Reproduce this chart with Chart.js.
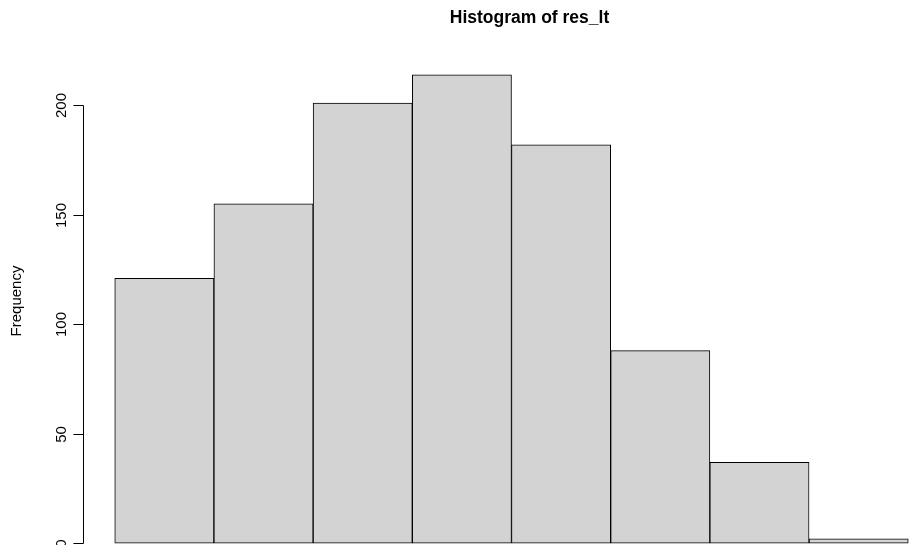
<!DOCTYPE html>
<html>
<head>
<meta charset="utf-8">
<script src="https://cdn.jsdelivr.net/npm/chart.js@4"></script>
<style>
  html, body { margin: 0; padding: 0; background: #ffffff; }
  #wrap { width: 909px; height: 545px; overflow: hidden; position: relative; background: #fff; }
  #c { position: absolute; left: 0; top: 0; }
</style>
</head>
<body>
<div id="wrap"><canvas id="c" width="960" height="580"></canvas></div>
<script>
// ---- data ----
const binCenters = [0.5, 1.5, 2.5, 3.5, 4.5, 5.5, 6.5, 7.5];
const counts = [121, 155, 201, 214, 182, 88, 37, 2];
const yTicks = [0, 50, 100, 150, 200];
const titleText = 'Histogram of res_lt';
const yLabel = 'Frequency';

const FONT = '"Liberation Sans", Arial, Helvetica, sans-serif';

const rAxisPlugin = {
  id: 'rAxis',
  afterDraw(chart) {
    const ctx = chart.ctx;
    const ys = chart.scales.y;
    const area = chart.chartArea;
    const ax = area.left;
    ctx.save();
    // axis line
    ctx.strokeStyle = '#000';
    ctx.lineWidth = 1;
    ctx.beginPath();
    ctx.moveTo(ax + 0.5, Math.round(ys.getPixelForValue(yTicks[0])) + 0.5);
    ctx.lineTo(ax + 0.5, Math.round(ys.getPixelForValue(yTicks[yTicks.length - 1])) + 0.5);
    ctx.stroke();
    // ticks and labels
    ctx.font = '15px ' + FONT;
    ctx.fillStyle = '#000';
    ctx.textAlign = 'center';
    ctx.textBaseline = 'alphabetic';
    yTicks.forEach(v => {
      const py = Math.round(ys.getPixelForValue(v)) + 0.5;
      ctx.beginPath();
      ctx.moveTo(ax - 9.6, py);
      ctx.lineTo(ax + 0.5, py);
      ctx.stroke();
      ctx.save();
      ctx.translate(ax - 17, py);
      ctx.rotate(-Math.PI / 2);
      ctx.fillText(String(v), 0, 0);
      ctx.restore();
    });
    // y axis title
    ctx.save();
    ctx.translate(ax - 62, (area.top + area.bottom) / 2 - 8);
    ctx.rotate(-Math.PI / 2);
    ctx.fillText(yLabel, 0, 0);
    ctx.restore();
    // main title
    ctx.font = 'bold 17.5px ' + FONT;
    ctx.fillText(titleText, (area.left + area.right) / 2 + 18, 23);
    ctx.restore();
  }
};

new Chart(document.getElementById('c'), {
  type: 'bar',
  data: {
    datasets: [{
      data: binCenters.map((x, i) => ({ x: x, y: counts[i] })),
      backgroundColor: '#d3d3d3',
      borderColor: '#000000',
      borderWidth: 1,
      borderSkipped: false,
      barPercentage: 1.0,
      categoryPercentage: 1.0
    }]
  },
  options: {
    responsive: false,
    animation: false,
    devicePixelRatio: 1,
    layout: { padding: { left: 83, right: 20, top: 56, bottom: 18 } },
    plugins: { legend: { display: false }, tooltip: { enabled: false }, title: { display: false } },
    scales: {
      x: { type: 'linear', min: -0.32, max: 8.32, display: false, offset: false },
      y: { type: 'linear', min: -8.56, max: 222.56, display: false }
    }
  },
  plugins: [rAxisPlugin]
});
</script>
</body>
</html>
